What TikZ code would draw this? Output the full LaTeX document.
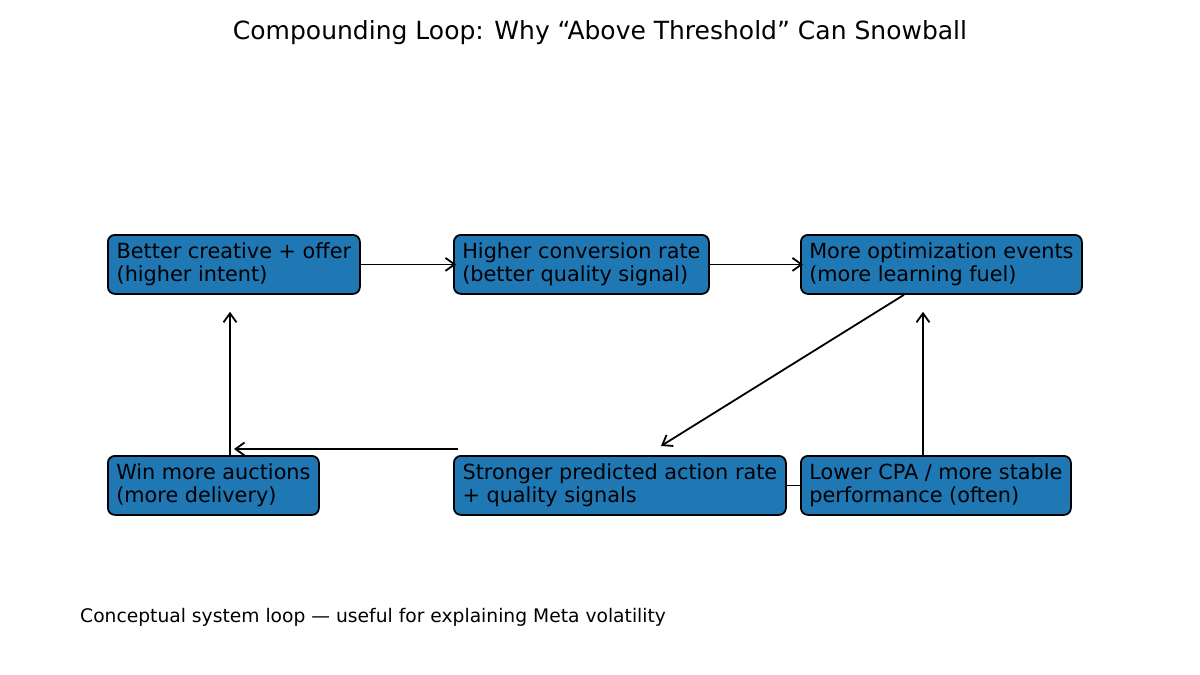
\documentclass[tikz,border=0pt]{standalone}
\usepackage{fontspec}
\setmainfont{DejaVu Sans}
\usetikzlibrary{arrows.meta}
\definecolor{mplblue}{HTML}{1F77B4}
\tikzset{
  box/.style={draw=black, line width=1.8pt, fill=mplblue, rounded corners=7pt,
    anchor=north west, minimum height=59pt, inner xsep=8pt, inner ysep=4pt,
    align=left, font=\fontsize{20.8}{23.5}\selectfont},
  arr/.style={draw=black, line width=1.8pt, -{Straight Barb[length=9pt,width=13pt,line width=1.8pt]}},
  plain/.style={draw=black, line width=1.8pt}
}
\begin{document}
\begin{tikzpicture}[x=1pt,y=-1pt]
\useasboundingbox (0,0) rectangle (1200,675);
\node[font=\fontsize{25}{30}\selectfont] (title) at (600,33) {Compounding Loop: Why “Above Threshold” Can Snowball};
\node[box, minimum width=252pt] (A) at (107,234) {Better creative + offer\\(higher intent)};
\node[box, minimum width=255pt] (B) at (453,234) {Higher conversion rate\\(better quality signal)};
\node[box, minimum width=281pt] (C) at (800,234) {More optimization events\\(more learning fuel)};
\node[box, minimum width=211pt] (D) at (107,455) {Win more auctions\\(more delivery)};
\node[box, minimum width=332pt] (E) at (453,455) {Stronger predicted action rate\\+ quality signals};
\node[box, minimum width=270pt] (F) at (800,455) {Lower CPA / more stable\\performance (often)};
\node[anchor=west, inner sep=0pt, font=\fontsize{18.7}{22}\selectfont] (cap) at (80,617) {Conceptual system loop — useful for explaining Meta volatility};
\draw[arr] (A.east) -- ([xshift=3pt]B.west);
\draw[arr] (B.east) -- ([xshift=3pt]C.west);
\draw[arr] ([xshift=104pt]C.south west) -- ([xshift=208pt,yshift=9pt]E.north west);
\draw[arr] ([xshift=123pt]F.north west) -- ([xshift=123pt,yshift=-17pt]C.south west);
\draw[arr] ([xshift=5pt,yshift=6pt]E.north west) -- ([xshift=127pt,yshift=6pt]D.north west);
\draw[arr] ([xshift=123pt]D.north west) -- ([xshift=123pt,yshift=-17pt]A.south west);
\draw[plain] (E.east) -- (F.west);
\end{tikzpicture}
\end{document}
